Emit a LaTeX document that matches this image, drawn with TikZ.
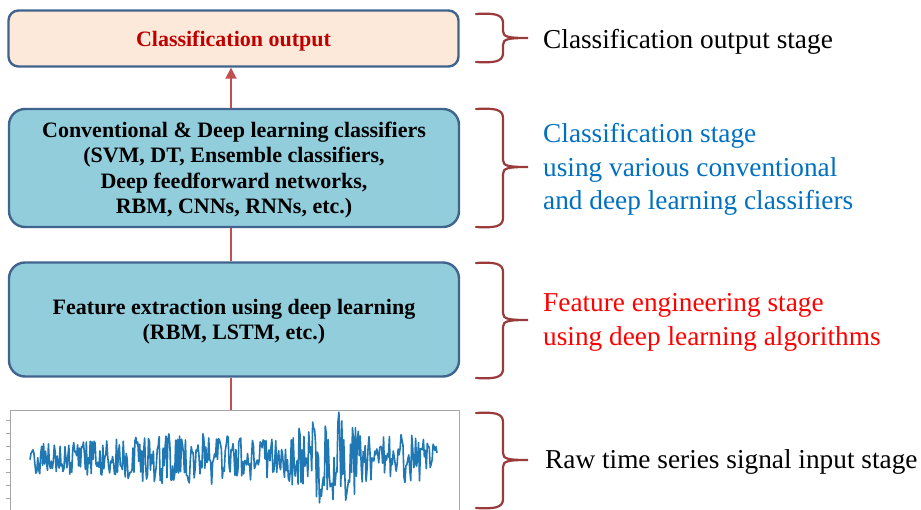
\documentclass[tikz,border=0pt]{standalone}
\usepackage{fontspec}
\setmainfont{Liberation Serif}
\usetikzlibrary{arrows.meta}
\definecolor{boxline}{HTML}{41648F}
\definecolor{outfill}{HTML}{FDE9D9}
\definecolor{clsfill}{HTML}{92CDDC}
\definecolor{arrowred}{HTML}{C0504D}
\definecolor{bracered}{HTML}{9B3A3A}
\definecolor{outtext}{HTML}{C00000}
\definecolor{stageblue}{HTML}{0070C0}
\definecolor{sigblue}{HTML}{1F77B4}
\newcommand\boxtext[1]{\raisebox{-2.5pt}[\height][\depth]{\begin{tabular}{@{}c@{}}#1\end{tabular}}}
\begin{document}
\begin{tikzpicture}[x=1pt,y=-1pt,
  stagebox/.style={draw=boxline, line width=2.4pt, rounded corners=16pt, minimum width=450pt, font=\bfseries\fontsize{22}{25.3}\selectfont, inner sep=0pt},
  flow/.style={draw=arrowred, line width=1.8pt},
  sbrace/.style={draw=bracered, line width=2.2pt, line cap=round},
  stagetext/.style={anchor=west, align=left, font=\fontsize{27.3}{33.5}\selectfont, inner sep=0pt},
  sig/.style={draw=sigblue, line width=1.6pt, line join=round},
  declare function={env(\t)=18+10*exp(-((\t-190)/55)^2)+32*exp(-((\t-330)/32)^2)+7*exp(-((\t-405)/20)^2);}
]
\useasboundingbox (0,0) rectangle (921,510);
\fill[white] (0,0) rectangle (921,510);

% boxes
\node[stagebox, fill=outfill, minimum height=56pt, rounded corners=10pt, text=outtext] (out) at (233.5,38.5) {\boxtext{Classification output}};
\node[stagebox, fill=clsfill, minimum height=118pt] (cls) at (234,168) {\boxtext{Conventional \& Deep learning classifiers\\(SVM, DT, Ensemble classifiers,\\Deep feedforward networks,\\RBM, CNNs, RNNs, etc.)}};
\node[stagebox, fill=clsfill, minimum height=114pt] (feat) at (234,319.5) {\boxtext{Feature extraction using deep learning\\(RBM, LSTM, etc.)}};

% signal plot
\coordinate (plottop) at (231,410);
\draw[gray!70, line width=0.8pt] (10,512) -- (10,410) -- (459,410) -- (459,512);
\foreach \yy in {420,433,446,459,472,485,498} \draw[gray!70, line width=0.6pt] (6,\yy) -- (10,\yy);
\pgfmathsetseed{11}
\begin{scope}
\clip (11,411) rectangle (458,510);
\draw[sig] plot[domain=30:437, samples=420] (\x, {459 + env(\x)*rand});
\end{scope}

% connectors
\draw[flow, -{Triangle[width=11pt,length=11pt]}] (cls.north -| plottop) -- (out.south -| plottop);
\draw[flow] (cls.south -| plottop) -- (feat.north -| plottop);
\draw[flow] (feat.south -| plottop) -- (plottop);

% braces
\newcommand\stagebrace[3]{%
  \draw[sbrace] (476,#1) .. controls (494,#1-1) and (503,#1) .. (503,#1+9) -- (503,#3-7)
    .. controls (503,#3-1) and (508,#3) .. (528,#3)
    .. controls (508,#3) and (503,#3+1) .. (503,#3+7) -- (503,#2-9)
    .. controls (503,#2) and (494,#2+1) .. (476,#2);}
\stagebrace{14}{62}{38}
\stagebrace{109}{227}{167}
\stagebrace{263}{378}{320}
\stagebrace{413}{508}{460}

% stage texts
\node[stagetext] (t1) at (543,42) {Classification output stage};
\node[stagetext, text=stageblue] (t2) at (543,169.5) {Classification stage\\using various conventional\\and deep learning classifiers};
\node[stagetext, text=red] (t3) at (543,322.5) {Feature engineering stage\\using deep learning algorithms};
\node[stagetext] (t4) at (545,462) {Raw time series signal input stage};
\end{tikzpicture}
\end{document}
